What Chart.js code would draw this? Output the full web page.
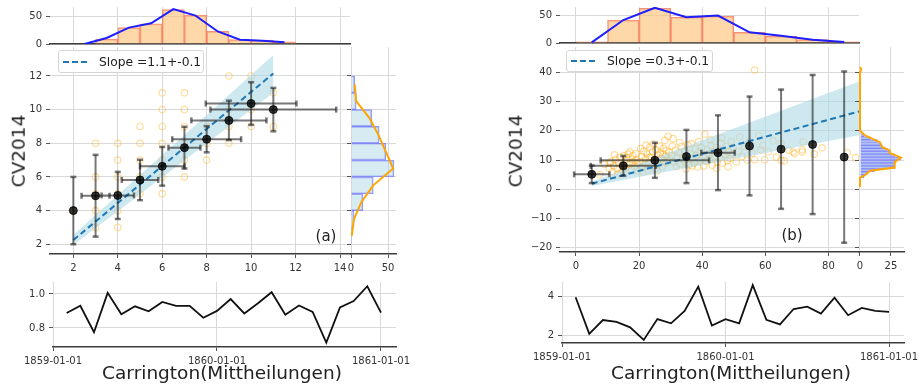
<!DOCTYPE html>
<html>
<head>
<meta charset="utf-8">
<script src="https://cdn.jsdelivr.net/npm/chart.js@4.4.1/dist/chart.umd.min.js"></script>
<style>
  html, body { margin: 0; padding: 0; background: #fff; }
  body { width: 920px; height: 387px; position: relative; overflow: hidden; font-family: 'DejaVu Sans', sans-serif; color: #222; }
  canvas { position: absolute; }
  .lbl { position: absolute; white-space: nowrap; transform: translate(-50%, -50%); line-height: 1; }
  .ylab { transform: translate(-50%, -50%) rotate(-90deg); font-size: 18.5px; }
  .xlab { font-size: 18.5px; }
  .tag { font-size: 15px; }
  .legend { position: absolute; box-sizing: border-box; background: rgba(255,255,255,0.85); border: 1px solid #d6d6d6; border-radius: 3px;
            font-size: 12.3px; display: flex; align-items: center; padding-left: 4px; white-space: nowrap; }
  .legend svg { margin-right: 10px; }
</style>
</head>
<body>
<canvas id="aTop"></canvas>
<canvas id="aSc"></canvas>
<canvas id="aRh"></canvas>
<canvas id="aTs"></canvas>
<canvas id="bTop"></canvas>
<canvas id="bSc"></canvas>
<canvas id="bRh"></canvas>
<canvas id="bTs"></canvas>

<div class="lbl ylab" style="left:19px; top:151px;">CV2014</div>
<div class="lbl ylab" style="left:516px; top:151px;">CV2014</div>
<div class="lbl xlab" style="left:222px; top:373px;">Carrington(Mittheilungen)</div>
<div class="lbl xlab" style="left:731px; top:373px;">Carrington(Mittheilungen)</div>
<div class="lbl tag" style="left:326px; top:236px;">(a)</div>
<div class="lbl tag" style="left:792px; top:235px;">(b)</div>
<div class="legend" style="left:58px; top:50px; width:146px; height:23px;">
  <svg width="26" height="4"><line x1="0" y1="2" x2="26" y2="2" stroke="#1f77b4" stroke-width="2" stroke-dasharray="6 3"/></svg>Slope =1.1+-0.1</div>
<div class="legend" style="left:566px; top:50px; width:147px; height:22px;">
  <svg width="26" height="4"><line x1="0" y1="2" x2="26" y2="2" stroke="#1f77b4" stroke-width="2" stroke-dasharray="6 3"/></svg>Slope =0.3+-0.1</div>

<script>
// ---- panel (a) ----
const aHistBins = [3.5, 4.5, 5.5, 6.5, 7.5, 8.5, 9.5, 10.5, 11.5];
const aHistCounts = [9, 30, 37, 63, 53, 23, 8, 7, 4];
const aPolyX = [2.5, 3.5, 4.5, 5.5, 6.5, 7.5, 8.5, 9.5, 10.5, 11.5];
const aPolyY = [0, 11, 30, 38, 64, 52, 23, 8, 6, 3];
const aSideBins = [2.5, 3.5, 4.5, 5.5, 6.5, 7.5, 8.5, 9.5, 10.5, 11.5];
const aSideCounts = [1, 4, 16, 30, 58, 47, 38, 28, 7, 5];
const aSidePoly = [1, 4, 14, 30, 57, 47, 37, 25, 7, 5];
const aMeanX = [2, 3, 4, 5, 6, 7, 8, 9, 10, 11];
const aMeanY = [4.0, 4.88, 4.9, 5.82, 6.63, 7.74, 8.24, 9.36, 10.36, 10.0];
const aErrY = [2.0, 2.43, 1.4, 1.2, 1.15, 1.24, 0.78, 1.17, 1.27, 1.29];
const aErrX = [0, 0.63, 0.73, 0.82, 1.0, 0.72, 1.55, 1.69, 2.04, 2.83];
const aPtX = [2, 3, 3, 3, 3, 3, 4, 4, 4, 4, 4, 4, 5, 5, 5, 5, 5, 6, 6, 6, 6, 6, 6, 6,
              7, 7, 7, 7, 7, 7, 8, 8, 8, 9, 9, 9, 9, 10, 10, 10, 11, 11];
const aPtY = [4, 3, 4, 5, 6, 8, 3, 4, 5, 6, 7, 8, 5, 6, 7, 8, 9, 5, 6, 7, 8, 9, 10, 11,
              6, 7, 8, 9, 10, 11, 7, 8, 9, 8, 9, 10, 12, 9, 10, 12, 9, 11];
const aFitX = [2, 11];
const aFitY = [2.25, 12.15];
const aBandLo = [1.95, 11.0];
const aBandHi = [2.55, 13.25];
const aTs = [0.888, 0.93, 0.775, 1.006, 0.88, 0.927, 0.898, 0.953, 0.93, 0.93, 0.86, 0.90,
             0.97, 0.885, 0.945, 1.01, 0.878, 0.932, 0.894, 0.714, 0.92, 0.958, 1.045, 0.89];

// ---- panel (b) ----
const bHistBins = [5, 15, 25, 35, 45, 55, 65, 75, 85];
const bHistCounts = [2, 41, 62, 46, 48, 19, 12, 6, 2];
const bPolyY = [1, 41, 63, 46, 49, 19, 13, 6, 2];
const bSideBins = [4.5, 5.5, 6.5, 7.5, 8.5, 9.5, 10.5, 11.5, 12.5, 13.5, 14.5, 15.5, 16.5, 17.5, 18.5, 19.5];
const bSideCounts = [3, 6, 12, 28, 28, 29, 33, 28, 24, 22, 18, 17, 14, 8, 3, 1];
const bSidePolyY = [0.8, 4.0, 4.8, 6.3, 7.4, 9.3, 10.8, 12.4, 13.3, 14.4, 16.1, 18.4, 20.1, 40.0, 41.0, 41.8];
const bSidePolyC = [0, 0, 4, 8, 28, 28, 33, 24, 24, 18, 16, 4, 0, 0, 1, 0];
const bMeanX = [5, 15, 25, 35, 45, 55, 65, 75, 85];
const bMeanY = [5.1, 8.0, 9.9, 11.2, 12.5, 14.8, 13.7, 15.3, 11.0];
const bErrY = [3.0, 3.4, 6.0, 9.1, 12.8, 16.9, 20.4, 23.8, 29.3];
const bErrX = [5.6, 10.3, 17.2, 0, 5.3, 0, 0, 0, 0];
const bPtX = [7.5, 9.0,
  10.5, 11, 11.5, 12, 12.5, 13, 13.5, 14, 14, 14.5, 15, 15.5, 16, 16, 16.5, 17, 17, 17.5, 18, 18, 18.5, 19, 19, 19.5, 10.8, 12.2, 13.2, 15.2, 17.8, 19.8,
  20.3, 20.8, 21, 21.4, 21.8, 22, 22.5, 22.8, 23, 23.4, 23.8, 24, 24.3, 24.7, 25, 25.3, 25.6, 26, 26.3, 26.7, 27, 27.3, 27.7, 28, 28.2, 28.5, 28.8, 29.2, 29.5, 29.8,
  20.5, 21.2, 22.2, 23.2, 24.5, 25.8, 26.5, 27.5, 28.6, 29.0,
  30.3, 30.8, 31, 31.5, 31.8, 32.2, 32.6, 33, 33.4, 33.8, 34.2, 34.6, 35, 35.4, 35.8, 36.2, 36.6, 37, 37.4, 37.8, 38.2, 38.6, 39, 39.4, 39.8, 30.5, 32.9, 34.9, 36.9, 38.9,
  40.2, 40.8, 41.2, 41.6, 42, 42.4, 42.8, 43.2, 43.6, 44, 44.4, 44.8, 45.2, 45.6, 46, 46.4, 46.8, 47.2, 47.6, 48, 48.4, 48.8, 49.2, 49.6, 40.5, 42.6, 44.6, 46.2, 48.2, 49.8,
  50.8, 51.5, 51.9, 52.6, 53.4, 54.2, 55, 55.8, 56.6, 56.6, 57.9, 58.5, 59.2, 59.8,
  61, 62.5, 63.5, 65, 65, 66, 67.5, 68.8, 69.3,
  71.7, 71.7, 72, 75.5, 78, 86, 88.6];
const bPtY = [5.0, 8.5,
  7.2, 9.5, 6.0, 8.0, 10.2, 7.0, 9.0, 5.5, 11.0, 8.2, 6.5, 9.8, 7.5, 10.8, 12.0, 8.5, 12.8, 6.8, 9.2, 11.5, 7.8, 10.0, 12.2, 8.8, 8.8, 11.8, 5.2, 11.5, 10.3, 6.2,
  9.5, 11.2, 7.4, 13.0, 8.6, 10.4, 12.1, 6.6, 9.1, 14.4, 11.0, 8.0, 12.8, 10.1, 7.0, 13.5, 9.6, 11.7, 8.4, 12.4, 10.6, 7.7, 14.0, 9.3, 16.7, 11.4, 8.9, 18.1, 12.7, 10.2,
  13.9, 5.9, 15.1, 10.9, 15.5, 6.2, 14.8, 12.0, 13.2, 9.8,
  11.5, 17.3, 9.2, 13.4, 7.8, 10.7, 12.5, 8.6, 14.6, 11.1, 9.7, 13.0, 10.3, 15.2, 8.3, 12.1, 15.6, 10.9, 9.0, 13.8, 11.6, 7.6, 12.9, 10.0, 14.2, 14.8, 16.0, 6.9, 8.0, 16.3,
  11.3, 18.8, 9.6, 13.7, 12.2, 10.4, 15.0, 8.2, 12.9, 11.0, 14.3, 9.3, 13.3, 10.7, 15.8, 8.9, 12.4, 11.7, 14.7, 9.8, 13.1, 10.5, 16.4, 12.0, 7.9, 16.9, 7.2, 17.5, 7.8, 14.0,
  9.3, 13.0, 17.9, 11.2, 14.6, 10.0, 16.2, 12.3, 10.1, 40.8, 18.4, 13.5, 15.0, 10.1,
  12.8, 16.5, 11.0, 9.9, 15.6, 9.7, 13.3, 12.7, 12.2,
  13.5, 12.7, 16.2, 12.0, 14.2, 12.5, 10.8];
const bFitX = [5, 89.7];
const bFitY = [1.9, 26.6];
const bBandLo = [1.1, 18.5];
const bBandHi = [2.6, 36.9];
const bTs = [3.97, 2.07, 2.79, 2.69, 2.41, 1.76, 2.84, 2.62, 3.26, 4.52, 2.5, 2.83,
             2.62, 4.6, 2.8, 2.56, 3.36, 3.48, 3.12, 3.95, 3.04, 3.42, 3.26, 3.21];

// time axis (months since 1859-01)
const tsMonths = ['1859-02', '1859-03', '1859-04', '1859-05', '1859-06', '1859-07', '1859-08', '1859-09',
                  '1859-10', '1859-11', '1859-12', '1860-01', '1860-02', '1860-03', '1860-04', '1860-05',
                  '1860-06', '1860-07', '1860-08', '1860-09', '1860-10', '1860-11', '1860-12', '1861-01'];
const dateTicks = [0, 12, 24];
const dateLabels = ['1859-01-01', '1860-01-01', '1861-01-01'];

const aXTicks = [2, 4, 6, 8, 10, 12, 14];
const aYTicks = [2, 4, 6, 8, 10, 12];
const bXTicks = [0, 20, 40, 60, 80];
const bYTicks = [-20, -10, 0, 10, 20, 30, 40];

Chart.defaults.font.family = "'DejaVu Sans', sans-serif";
Chart.defaults.font.size = 10;
Chart.defaults.color = '#333';
Chart.defaults.animation = false;
Chart.defaults.plugins.legend.display = false;
Chart.defaults.plugins.tooltip.enabled = false;

const GRID = '#d9d9d9', SPINE = '#3d3d3d', TICK = '#555';
const BAR_FILL = 'rgba(253,190,110,0.6)', BAR_EDGE = 'rgba(245,115,95,0.8)';
const SIDE_FILL = 'rgba(173,216,230,0.5)', SIDE_EDGE = 'rgba(105,105,255,0.7)';
const ORANGE = 'rgba(255,165,0,0.38)', BAND = 'rgba(173,216,230,0.6)';
const ERR = 'rgba(30,30,30,0.6)';

function fmt(v) { return v < 0 ? '\u2212' + Math.abs(v) : String(v); }

function axis(min, max, ticks, size, o) {
  o = o || {};
  return {
    type: 'linear', min: min, max: max, offset: false,
    afterBuildTicks: s => { s.ticks = ticks.map(v => ({ value: v })); },
    afterFit: s => { if (s.isHorizontal()) s.height = size; else s.width = size; },
    grid: { color: GRID, tickColor: TICK, tickLength: 4, drawTicks: !o.noTicks, offset: false },
    border: { display: !!o.spine, color: SPINE, width: 1.5 },
    ticks: { display: !o.hide, padding: 4, autoSkip: false, maxRotation: 0, color: '#333',
             callback: o.labels ? ((v, i) => o.labels[i]) : fmt }
  };
}

// place canvas so that the chart area lands on rect r
function make(id, r, yw, xh, config) {
  const pad = { left: 0, top: 12, right: 30, bottom: 12 };
  const el = document.getElementById(id);
  el.style.left = (r.l - yw) + 'px';
  el.style.top = (r.t - pad.top) + 'px';
  el.width = r.r - r.l + yw + pad.right;
  el.height = r.b - r.t + xh + pad.top + pad.bottom;
  config.options.responsive = false;
  config.options.layout = { padding: pad };
  return new Chart(el.getContext('2d'), config);
}

const pts = (xs, ys) => xs.map((x, i) => ({ x: x, y: ys[i] }));

function vBars(xs, ys, es) {
  const out = [];
  xs.forEach((x, i) => { out.push({ x: x, y: ys[i] - es[i] }, { x: x, y: ys[i] + es[i] }, { x: x, y: null }); });
  return out;
}
function hBars(xs, ys, es) {
  const out = [];
  xs.forEach((x, i) => { if (es[i] > 0) out.push({ x: x - es[i], y: ys[i] }, { x: x + es[i], y: ys[i] }, { x: x, y: null }); });
  return out;
}
function vCaps(xs, ys, es) {
  const out = [];
  xs.forEach((x, i) => { out.push({ x: x, y: ys[i] - es[i] }, { x: x, y: ys[i] + es[i] }); });
  return out;
}
function hCaps(xs, ys, es) {
  const out = [];
  xs.forEach((x, i) => { if (es[i] > 0) out.push({ x: x - es[i], y: ys[i] }, { x: x + es[i], y: ys[i] }); });
  return out;
}

function scatterDatasets(p) {
  const line = { type: 'line', pointRadius: 0, showLine: true, spanGaps: false, tension: 0 };
  return [
    { type: 'scatter', data: pts(p.mx, p.my), pointRadius: 4, pointBackgroundColor: 'rgba(0,0,0,0.78)',
      pointBorderColor: 'rgba(0,0,0,0.78)', order: 0 },
    Object.assign({ data: vBars(p.mx, p.my, p.ey), borderColor: ERR, borderWidth: 2, order: 1 }, line),
    Object.assign({ data: hBars(p.mx, p.my, p.ex), borderColor: ERR, borderWidth: 2, order: 1 }, line),
    { type: 'scatter', data: vCaps(p.mx, p.my, p.ey), pointStyle: 'line', pointRadius: 3, pointBorderWidth: 2.5,
      pointBorderColor: ERR, order: 1 },
    { type: 'scatter', data: hCaps(p.mx, p.my, p.ex), pointStyle: 'line', pointRotation: 90, pointRadius: 3, pointBorderWidth: 2.5,
      pointBorderColor: ERR, order: 1 },
    Object.assign({ data: pts(p.fx, p.fy), borderColor: '#1f77b4', borderWidth: 2, borderDash: [6, 3.5], order: 2 }, line),
    Object.assign({ data: pts(p.fx, p.lo), borderColor: 'rgba(0,0,0,0)', borderWidth: 1, fill: false, order: 3 }, line),
    Object.assign({ data: pts(p.fx, p.hi), borderColor: 'rgba(0,0,0,0)', borderWidth: 1, fill: '-1', backgroundColor: BAND, order: 3 }, line),
    { type: 'scatter', data: pts(p.px, p.py), pointRadius: 3.2, pointBorderWidth: 1.2, pointBackgroundColor: 'rgba(0,0,0,0)',
      pointBorderColor: ORANGE, order: 4 }
  ];
}

function topHist(id, r, yw, xmin, xmax, xticks, bins, counts, px, py, ymax) {
  return make(id, r, yw, 0, {
    type: 'bar',
    data: { datasets: [
      { type: 'line', data: pts(px, py), borderColor: 'rgb(30,30,255)', borderWidth: 2, pointRadius: 0, order: 0 },
      { data: pts(bins, counts), backgroundColor: BAR_FILL, borderColor: BAR_EDGE, borderWidth: 1,
        barPercentage: 1, categoryPercentage: 1, order: 1 }
    ] },
    options: { scales: {
      x: axis(xmin, xmax, xticks, 0, { spine: true, hide: true, noTicks: true }),
      y: axis(0, ymax, [0, 50], yw)
    } }
  });
}

function sideHist(id, r, ymin, ymax, yticks, xmin, xmax, xticks, bins, counts, polyY, polyC) {
  return make(id, r, 10, 20, {
    type: 'bar',
    data: { datasets: [
      { type: 'line', indexAxis: 'y', data: polyY.map((y, i) => ({ x: polyC[i], y: y })), borderColor: '#ffa500',
        borderWidth: 2, pointRadius: 0, order: 0 },
      { data: bins.map((y, i) => ({ x: counts[i], y: y })), backgroundColor: SIDE_FILL, borderColor: SIDE_EDGE,
        borderWidth: 1, barPercentage: 1, categoryPercentage: 1, order: 1 }
    ] },
    options: { indexAxis: 'y', scales: {
      x: axis(xmin, xmax, xticks, 20, { spine: true }),
      y: axis(ymin, ymax, yticks, 10, { hide: true })
    } }
  });
}

function series(id, r, yw, vals, ymin, ymax, yticks, ylabels) {
  const xs = tsMonths.map(s => (parseInt(s.slice(0, 4)) - 1859) * 12 + parseInt(s.slice(5, 7)) - 1);
  return make(id, r, yw, 20, {
    type: 'line',
    data: { datasets: [{ data: pts(xs, vals), borderColor: '#111', borderWidth: 1.8, pointRadius: 0, tension: 0 }] },
    options: { scales: {
      x: axis(0, 25.1, dateTicks, 20, { spine: true, labels: dateLabels }),
      y: axis(ymin, ymax, yticks, yw, { labels: ylabels })
    } }
  });
}

// ---- panel (a) ----
topHist('aTop', { l: 50, t: 7, r: 350, b: 44 }, 50, 0.95, 14.45, aXTicks, aHistBins, aHistCounts, aPolyX, aPolyY, 67.8);
make('aSc', { l: 50, t: 47, r: 350, b: 254 }, 50, 20, {
  type: 'scatter',
  data: { datasets: scatterDatasets({ mx: aMeanX, my: aMeanY, ey: aErrY, ex: aErrX, fx: aFitX, fy: aFitY,
                                      lo: aBandLo, hi: aBandHi, px: aPtX, py: aPtY }) },
  options: { scales: {
    x: axis(0.95, 14.45, aXTicks, 20, { spine: true }),
    y: axis(1.42, 13.72, aYTicks, 50)
  } }
});
sideHist('aRh', { l: 351, t: 47, r: 396, b: 254 }, 1.42, 13.72, aYTicks, 0, 60.8, [0, 50],
         aSideBins, aSideCounts, aSideBins, aSidePoly);
series('aTs', { l: 53, t: 282, r: 396, b: 347 }, 53, aTs, 0.688, 1.07, [0.8, 1.0], ['0.8', '1.0']);

// ---- panel (b) ----
topHist('bTop', { l: 560, t: 7, r: 859, b: 43 }, 60, -5.07, 89.7, bXTicks, bHistBins, bHistCounts, bHistBins, bPolyY, 64.3);
make('bSc', { l: 560, t: 47, r: 859, b: 252 }, 60, 20, {
  type: 'scatter',
  data: { datasets: scatterDatasets({ mx: bMeanX, my: bMeanY, ey: bErrY, ex: bErrX, fx: bFitX, fy: bFitY,
                                      lo: bBandLo, hi: bBandHi, px: bPtX, py: bPtY }) },
  options: { scales: {
    x: axis(-5.07, 89.7, bXTicks, 20, { spine: true }),
    y: axis(-21.47, 48.66, bYTicks, 60)
  } }
});
sideHist('bRh', { l: 859, t: 47, r: 904, b: 252 }, -21.47, 48.66, bYTicks, -0.8, 35.5, [0, 25],
         bSideBins, bSideCounts, bSidePolyY, bSidePolyC);
series('bTs', { l: 562, t: 282, r: 904, b: 343 }, 62, bTs, 1.6, 4.76, [2, 4], ['2', '4']);
</script>
</body>
</html>
